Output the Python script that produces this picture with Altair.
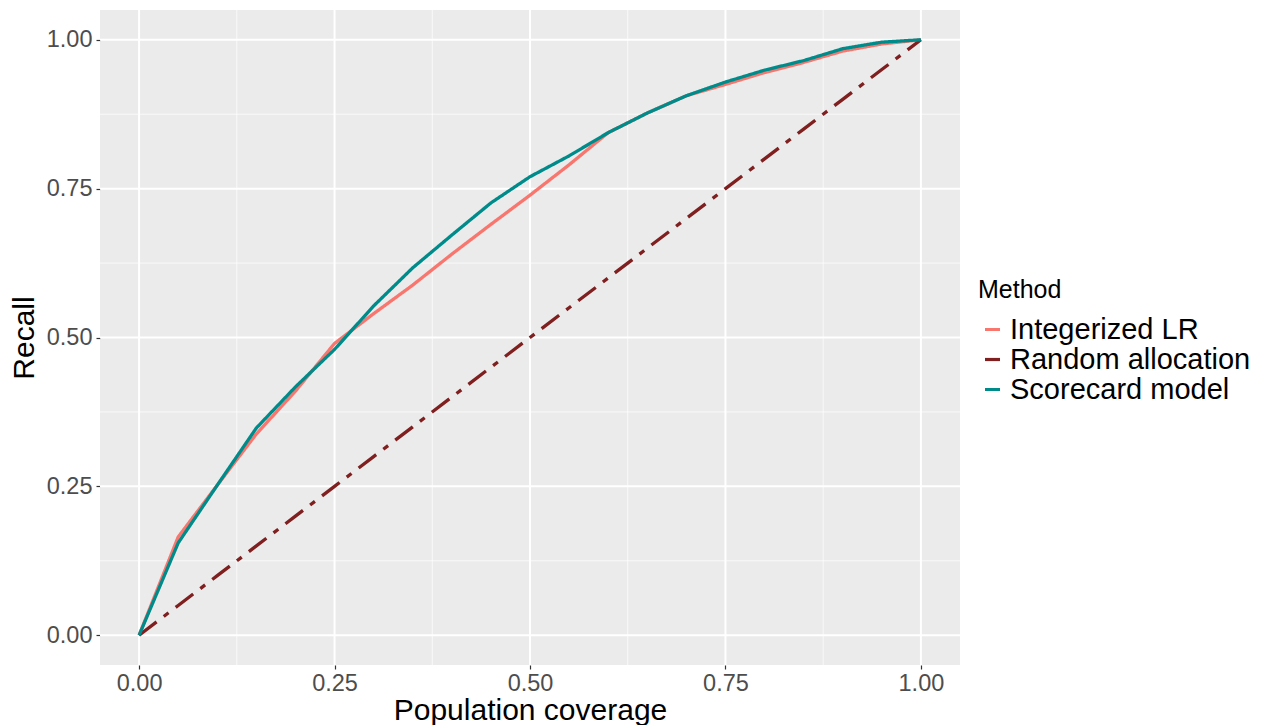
import altair as alt
import pandas as pd

coverage = [0.00, 0.05, 0.10, 0.15, 0.20, 0.25, 0.30, 0.35, 0.40, 0.45, 0.50,
            0.55, 0.60, 0.65, 0.70, 0.75, 0.80, 0.85, 0.90, 0.95, 1.00]
integerized_lr = [0.0, 0.165, 0.252, 0.338, 0.410, 0.490, 0.540, 0.588, 0.640, 0.690, 0.739,
                  0.790, 0.844, 0.877, 0.906, 0.925, 0.945, 0.962, 0.981, 0.993, 1.0]
random_alloc = [0.0, 0.05, 0.10, 0.15, 0.20, 0.25, 0.30, 0.35, 0.40, 0.45, 0.50,
                0.55, 0.60, 0.65, 0.70, 0.75, 0.80, 0.85, 0.90, 0.95, 1.0]
scorecard = [0.0, 0.155, 0.252, 0.348, 0.417, 0.480, 0.553, 0.617, 0.672, 0.726, 0.770,
             0.805, 0.844, 0.877, 0.906, 0.929, 0.949, 0.965, 0.985, 0.996, 1.0]

methods = ["Integerized LR", "Random allocation", "Scorecard model"]
colors = ["#F8766D", "#7F1F1F", "#008B8B"]
dashes = [[1, 0], [22, 9, 6, 9], [1, 0]]

major_ticks = [0.0, 0.25, 0.5, 0.75, 1.0]
minor_ticks = [0.125, 0.375, 0.625, 0.875]

rows = []
for name, vals in zip(methods, [integerized_lr, random_alloc, scorecard]):
    for c, v in zip(coverage, vals):
        rows.append({"coverage": c, "recall": v, "Method": name})
df = pd.DataFrame(rows)
df["order"] = df["Method"].map({"Integerized LR": 0, "Random allocation": 1, "Scorecard model": 2})

FONT = "Liberation Sans"
dom = [-0.05, 1.05]
xs = alt.Scale(domain=dom, nice=False, zero=False)
ys = alt.Scale(domain=dom, nice=False, zero=False)

axis_common = dict(values=major_ticks, format=".2f", grid=False, domain=False,
                   tickSize=4, tickColor="#333333", tickWidth=1.2,
                   labelColor="#4D4D4D", labelFontSize=23.5, labelFont=FONT,
                   titleFontSize=30, titleFont=FONT,
                   titleFontWeight="normal", titleColor="black")
x_axis = alt.Axis(labelPadding=2, titlePadding=1, **axis_common)
y_axis = alt.Axis(labelPadding=4, titlePadding=7, **axis_common)
XT = "Population coverage"
YT = "Recall"

major_df = pd.DataFrame({"v": major_ticks})
minor_df = pd.DataFrame({"v": minor_ticks})

minor_x = alt.Chart(minor_df).mark_rule(color="white", strokeWidth=1, opacity=0.7).encode(
    x=alt.X("v:Q", scale=xs, axis=x_axis, title=XT))
minor_y = alt.Chart(minor_df).mark_rule(color="white", strokeWidth=1, opacity=0.7).encode(
    y=alt.Y("v:Q", scale=ys, axis=y_axis, title=YT))
major_x = alt.Chart(major_df).mark_rule(color="white", strokeWidth=2).encode(
    x=alt.X("v:Q", scale=xs, axis=x_axis, title=XT))
major_y = alt.Chart(major_df).mark_rule(color="white", strokeWidth=2).encode(
    y=alt.Y("v:Q", scale=ys, axis=y_axis, title=YT))

leg = dict(title="Method", titleFontSize=25, titleFont=FONT,
           titleFontWeight="normal", titleColor="black",
           labelFontSize=29, labelFont=FONT, labelColor="black", labelLimit=400,
           symbolType="stroke", symbolStrokeWidth=3.2,
           symbolSize=225, rowPadding=0, labelOffset=3,
           orient="none", legendX=878, legendY=268, titlePadding=12, padding=0)

lines = alt.Chart(df).mark_line(strokeWidth=3.3, strokeCap="butt").encode(
    x=alt.X("coverage:Q", scale=xs, title=XT, axis=x_axis),
    y=alt.Y("recall:Q", scale=ys, title=YT, axis=y_axis),
    color=alt.Color("Method:N", scale=alt.Scale(domain=methods, range=colors),
                    legend=alt.Legend(**leg)),
    strokeDash=alt.StrokeDash("Method:N", scale=alt.Scale(domain=methods, range=dashes),
                              legend=alt.Legend(**leg)),
    order=alt.Order("order:Q"),
    detail="Method:N",
)

chart = alt.layer(minor_x, minor_y, major_x, major_y, lines).properties(
    width=860, height=655,
    autosize=alt.AutoSizeParams(type="none"),
    padding={"left": 92, "top": 2, "right": 298, "bottom": 60},
    background="white",
).configure_view(fill="#EBEBEB", stroke=None)

chart.save("out.html", embed_options={"renderer": "svg", "actions": False})
